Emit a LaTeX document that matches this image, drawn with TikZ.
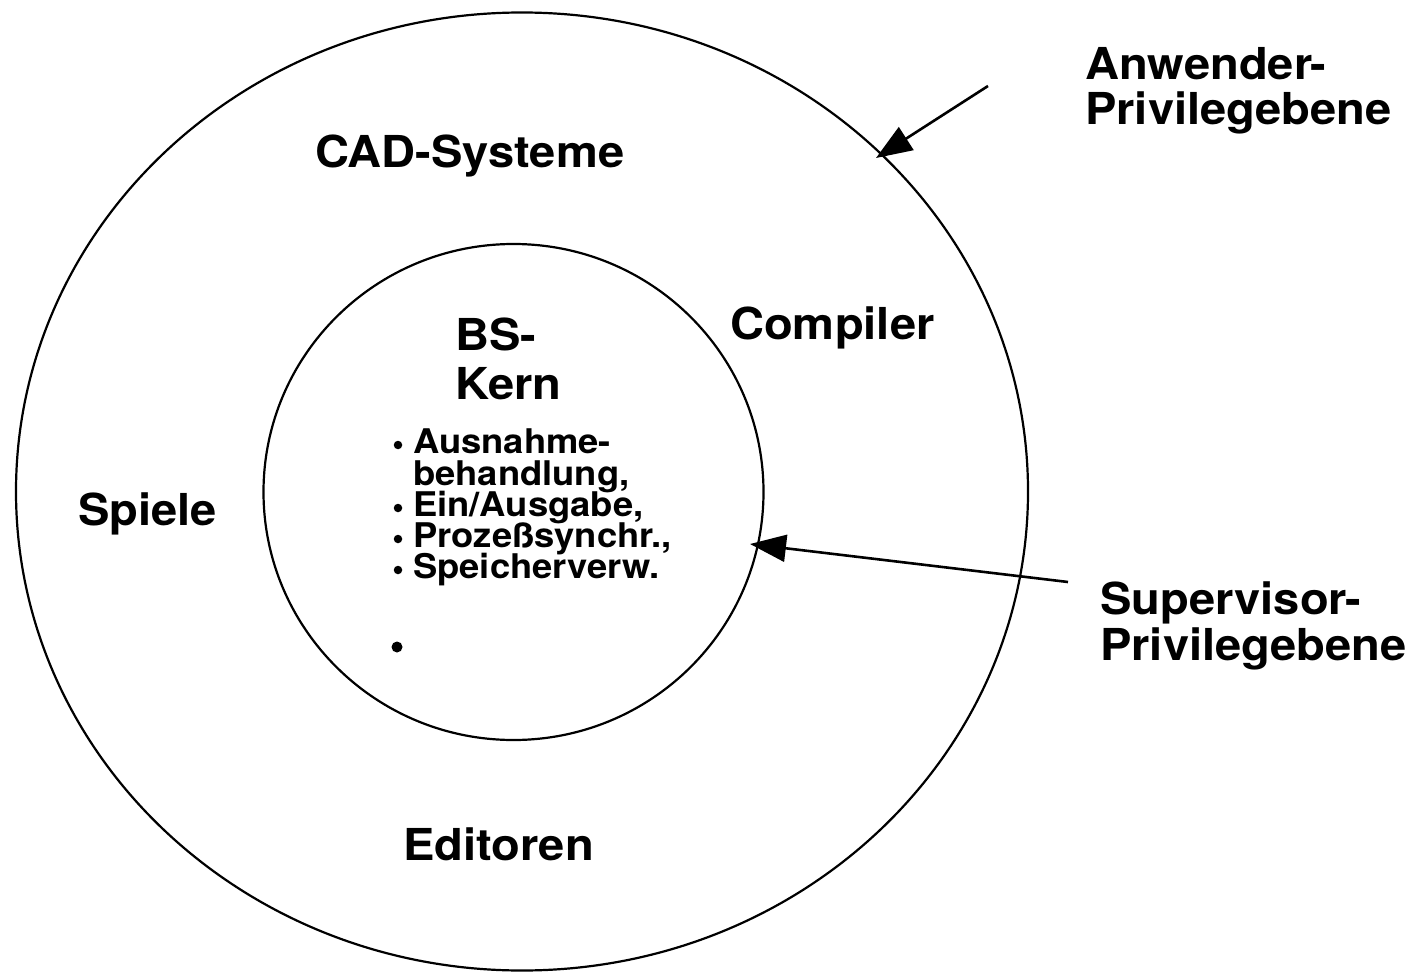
\documentclass[tikz,border=0pt]{standalone}
\usepackage{fontspec}
\setmainfont{TeX Gyre Heros}
\usetikzlibrary{arrows.meta,shapes.geometric}
\newcommand{\sx}[1]{\scalebox{1.07}[1]{#1}}
\tikzset{
  ring/.style={draw, ellipse, line width=2.2pt, inner sep=0pt},
  big/.style={anchor=base west, inner sep=0pt, font=\bfseries\fontsize{44}{48}\selectfont},
  small/.style={anchor=base west, inner sep=0pt, font=\bfseries\fontsize{34}{36}\selectfont},
  pointer/.style={line width=2.6pt, -{Triangle[length=36pt,width=27pt]}},
  dotsmall/.style={circle, fill, inner sep=0pt, minimum size=8.5pt},
  dotbig/.style={circle, fill, inner sep=0pt, minimum size=11pt}
}
\begin{document}
\begin{tikzpicture}[x=1pt,y=-1pt]
\useasboundingbox (0,0) rectangle (1415,973);
\node[ring, minimum width=1012pt, minimum height=958pt] (outer) at (522,491.5) {};
\node[ring, minimum width=500pt, minimum height=496pt] (inner) at (513.5,492) {};

\node[big] (cad) at (315,168) {\sx{CAD-Systeme}};
\node[big] (comp) at (730,339) {\sx{Compiler}};
\node[big] (spiele) at (78,525) {\sx{Spiele}};
\node[big] (edit) at (403,860) {\sx{Editoren}};
\node[big] (bs1) at (455,350) {\sx{BS-}};
\node[big] (bs2) at (455,399) {\sx{Kern}};
\node[big] (anw1) at (1085,80) {\sx{Anwender-}};
\node[big] (anw2) at (1085,125) {\sx{Privilegebene}};
\node[big] (sup1) at (1100,614) {\sx{Supervisor-}};
\node[big] (sup2) at (1100,660) {\sx{Privilegebene}};

\node[small] (l1) at (413,453) {\sx{Ausnahme-}};
\node[small] (l2) at (413,485) {\sx{behandlung,}};
\node[small] (l3) at (413,516) {\sx{Ein/Ausgabe,}};
\node[small] (l4) at (413,547) {\sx{Prozeßsynchr.,}};
\node[small] (l5) at (413,578) {\sx{Speicherverw.}};
\node[dotsmall] (b1) at (398,445) {};
\node[dotsmall] (b2) at (398,508) {};
\node[dotsmall] (b3) at (398,539) {};
\node[dotsmall] (b4) at (398,570) {};
\node[dotbig] (b5) at (397,647) {};

\coordinate (a1s) at (988,86);
\coordinate (a1e) at (876,158);
\coordinate (a2s) at (1068,582);
\coordinate (a2e) at (750,544);
\draw[pointer] (a1s) -- (a1e);
\draw[pointer] (a2s) -- (a2e);
\end{tikzpicture}
\end{document}
